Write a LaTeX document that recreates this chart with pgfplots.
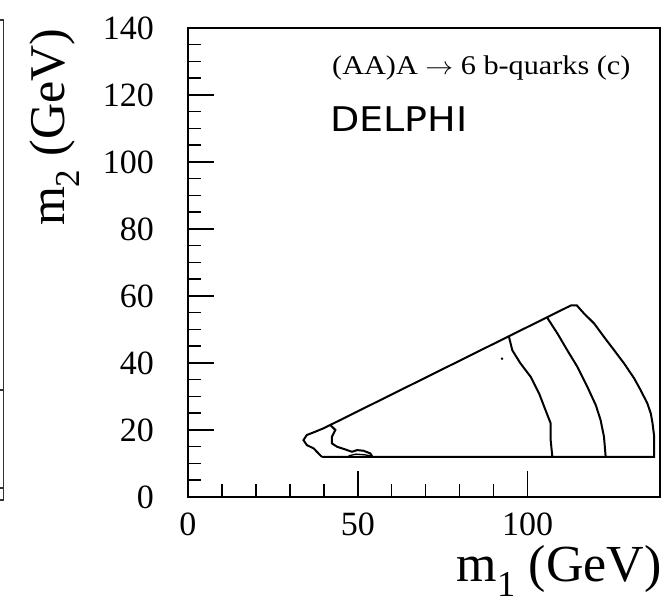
\documentclass[border=0pt]{standalone}
\usepackage{fontspec}
\setmainfont{Liberation Serif}
\newfontfamily\delphifont{DejaVu Sans}
\usepackage{graphicx}
\usepackage{pgfplots}
\pgfplotsset{compat=1.18}
\begin{document}
\begin{tikzpicture}
\useasboundingbox (0,0) rectangle (665pt,605pt);
\begin{axis}[
  at={(188pt,108pt)}, anchor=south west,
  width=472pt, height=469pt, scale only axis,
  xmin=0, xmax=139, ymin=0, ymax=140,
  xtick={0,50,100}, ytick={0,20,...,140},
  minor x tick num=4, minor y tick num=3,
  tick pos=left, tick align=inside,
  major tick length=26pt, minor tick length=13pt,
  axis line style={line width=1.6pt},
  tick style={line width=1.5pt, black},
  /pgf/number format/assume math mode=true,
  ticklabel style={font=\fontsize{34}{40}\selectfont, inner sep=0pt},
  yticklabel style={anchor=east, xshift=-34pt},
  xticklabel style={anchor=north, yshift=-16pt},
  xlabel={m\textsubscript{1} (GeV)},
  xlabel style={at={(axis description cs:1.004,-0.18)}, anchor=base east, inner sep=0pt, font=\fontsize{52}{60}\selectfont},
  ylabel={m\textsubscript{2} (GeV)},
  ylabel style={at={(axis description cs:-0.2606,0.788)}, anchor=base, inner sep=0pt, font=\fontsize{50}{60}\selectfont},
]
% outer boundary
\addplot[black, line width=2pt] coordinates {
(39.4,12.0) (137.3,12.0) (137.3,18.0) (136.8,22.0) (136.3,24.9) (135.3,27.9)
(133.3,31.9) (131.4,35.4) (128.4,39.9) (125.5,43.8) (122.5,47.8) (119.6,51.8)
(116.6,54.8) (114.5,57.2) (112.8,57.2) (41.9,21.5) (39.9,20.5) (37.5,19.5)
(35.0,18.5) (34.0,17.0) (35.0,15.5) (37.0,14.5) (39.4,12.0)
};
% middle contour
\addplot[black, line width=2pt] coordinates {
(105.8,53.5) (108.8,48.8) (111.7,43.8) (114.7,38.8) (117.6,32.9) (120.1,27.4)
(121.5,23.0) (122.5,18.0) (123.0,12.0)
};
% inner contour
\addplot[black, line width=2pt] coordinates {
(94.5,47.9) (95.5,43.8) (97.9,39.9) (100.9,35.9) (103.4,30.9) (105.3,25.9)
(106.8,22.0) (106.8,17.0) (107.3,12.0)
};
% left wiggle
\addplot[black, line width=2pt] coordinates {
(41.9,21.5) (43.4,20.0) (42.4,18.0) (42.4,16.0) (43.9,15.0) (46.3,14.2)
(48.3,13.5) (49.8,14.0) (51.7,13.8) (53.7,13.0) (54.2,12.2) (52.5,12.0)
};
\addplot[black, line width=1.3pt] coordinates {
(47.3,12.3) (49.5,12.8) (52.0,12.6) (54.2,12.2)
};
% isolated dot
\addplot[only marks, mark=*, mark size=1pt, black] coordinates {(92.5,41.3)};
\end{axis}
\node[anchor=base west, inner sep=0pt] at (332pt,530pt)
  {\scalebox{1.12}[1]{\fontsize{27}{32}\selectfont (AA)A $\rightarrow$ 6 b-quarks (c)}};
\node[anchor=base west, inner sep=0pt] at (330pt,473pt)
  {\scalebox{1.12}[1]{\delphifont\fontsize{34}{40}\selectfont DELPHI}};
% edge of neighbouring panel
\draw[line width=1.3pt, black!80] (0,585pt) -- (3.5pt,585pt) -- (3.5pt,105pt) -- (0,105pt);
\draw[line width=1.3pt, black!80] (0,215pt) -- (3.5pt,215pt);
\draw[line width=1.3pt, black!80] (0,117pt) -- (3.5pt,117pt);
\end{tikzpicture}
\end{document}
